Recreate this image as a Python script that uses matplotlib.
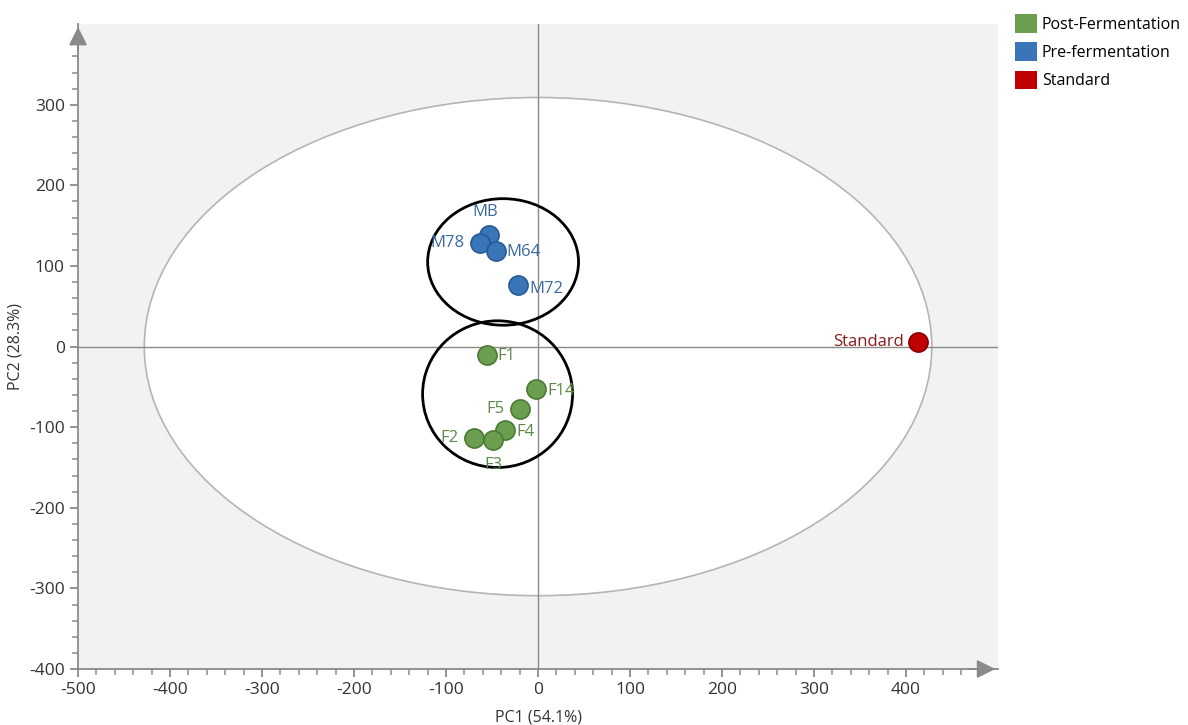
import matplotlib.pyplot as plt
from matplotlib.patches import Ellipse, Patch
from matplotlib.ticker import FixedLocator

plt.rcParams['font.family'] = ['Open Sans', 'DejaVu Sans']
plt.rcParams['axes.unicode_minus'] = False

# PCA scores
post_names = ['F1', 'F14', 'F5', 'F4', 'F2', 'F3']
post_pc1 = [-56, -2, -20, -36, -70, -49]
post_pc2 = [-10, -53, -78, -103, -114, -116]

pre_names = ['MB', 'M78', 'M64', 'M72']
pre_pc1 = [-53, -63, -46, -22]
pre_pc2 = [139, 128, 119, 77]

std_names = ['Standard']
std_pc1 = [413]
std_pc2 = [6]

# label offsets in points (dx, dy, ha)
post_offsets = [(8, -1, 'left'), (8, -1, 'left'), (-11, 0, 'right'), (8, -2, 'left'), (-11, 0, 'right'), (0, -18, 'center')]
pre_offsets = [(-3, 16, 'center'), (-11, 0, 'right'), (8, -1, 'left'), (8, -3, 'left')]
std_offsets = [(-10, 0, 'right')]

green, green_edge, green_txt = '#6b9e4e', '#4c7a35', '#5b8a45'
blue, blue_edge, blue_txt = '#3a75b9', '#285a96', '#3b6aa0'
red, red_edge, red_txt = '#c00000', '#8a0000', '#8b1a1a'
axis_grey = '#8a8a8a'

fig = plt.figure(figsize=(11.88, 7.25), dpi=100)
ax = fig.add_axes([0.0657, 0.0772, 0.7744, 0.8895])
ax.set_facecolor('#f2f2f2')
ax.set_xlim(-500, 500)
ax.set_ylim(-400, 400)

# Hotelling T2 ellipse
ax.add_patch(Ellipse((0, 0), 856, 618, facecolor='white', edgecolor='#b5b5b5', lw=1.2, zorder=1))
ax.axhline(0, color=axis_grey, lw=1, zorder=2)
ax.axvline(0, color=axis_grey, lw=1, zorder=2)

# group circles
ax.add_patch(Ellipse((-38, 105), 164, 157, facecolor='none', edgecolor='black', lw=2, zorder=3))
ax.add_patch(Ellipse((-44, -59), 163, 182, facecolor='none', edgecolor='black', lw=2, zorder=3))

def draw_group(xs, ys, names, offsets, fc, ec, tc):
    ax.scatter(xs, ys, s=190, c=fc, edgecolors=ec, linewidths=1.2, zorder=4)
    for x, y, n, (dx, dy, ha) in zip(xs, ys, names, offsets):
        ax.annotate(n, (x, y), xytext=(dx, dy), textcoords='offset points',
                    ha=ha, va='center', fontsize=12, color=tc, zorder=5)

draw_group(post_pc1, post_pc2, post_names, post_offsets, green, green_edge, green_txt)
draw_group(pre_pc1, pre_pc2, pre_names, pre_offsets, blue, blue_edge, blue_txt)
draw_group(std_pc1, std_pc2, std_names, std_offsets, red, red_edge, red_txt)

for s in ['top', 'right']:
    ax.spines[s].set_visible(False)
for s in ['left', 'bottom']:
    ax.spines[s].set_color(axis_grey)
    ax.spines[s].set_linewidth(1.3)

ax.xaxis.set_major_locator(FixedLocator(range(-500, 401, 100)))
ax.xaxis.set_minor_locator(FixedLocator(range(-500, 461, 20)))
ax.yaxis.set_major_locator(FixedLocator(range(-400, 301, 100)))
ax.yaxis.set_minor_locator(FixedLocator(range(-400, 381, 20)))
ax.tick_params(which='major', length=6, width=1.3, color=axis_grey, labelsize=12.5, labelcolor='#333333')
ax.tick_params(which='minor', length=4, width=1.1, color=axis_grey)

# axis arrows
ax.annotate('', xy=(0, 1.0), xytext=(0, 0.955), xycoords='axes fraction',
            arrowprops=dict(arrowstyle='-|>', color=axis_grey, lw=1.3, mutation_scale=28))
ax.annotate('', xy=(1.0, 0), xytext=(0.965, 0), xycoords='axes fraction',
            arrowprops=dict(arrowstyle='-|>', color=axis_grey, lw=1.3, mutation_scale=28))

ax.set_xlabel('PC1 (54.1%)', fontsize=11.5, color='#333333', labelpad=8)
ax.set_ylabel('PC2 (28.3%)', fontsize=11.5, color='#333333', labelpad=4)

handles = [Patch(facecolor=green, label='Post-Fermentation'),
           Patch(facecolor=blue, label='Pre-fermentation'),
           Patch(facecolor=red, label='Standard')]
fig.legend(handles=handles, loc='upper left', bbox_to_anchor=(0.842, 1.0), frameon=False,
           fontsize=11.5, handlelength=1.4, handleheight=1.4, handletextpad=0.3, labelspacing=0.6)

fig.savefig('out.png', dpi=100)
